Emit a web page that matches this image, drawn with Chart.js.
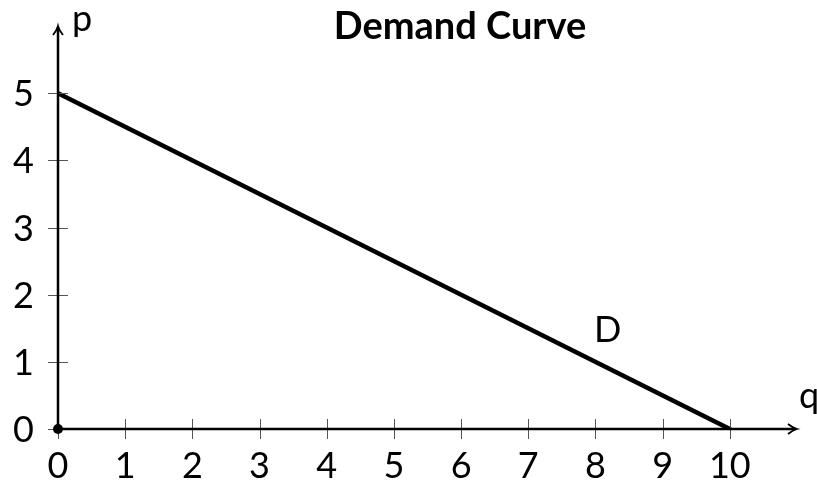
<!DOCTYPE html>
<html>
<head>
<meta charset="utf-8">
<script src="https://cdn.jsdelivr.net/npm/chart.js@4"></script>
<style>
  html, body { margin: 0; padding: 0; background: #fff; }
  #wrap { width: 817px; height: 484px; }
</style>
</head>
<body>
<div id="wrap"><canvas id="demand"></canvas></div>
<script>
// data
var quantity = [0, 10];
var price = [5, 0];
var xTicks = [0, 1, 2, 3, 4, 5, 6, 7, 8, 9, 10];
var yTicks = [0, 1, 2, 3, 4, 5];
var title = 'Demand Curve';
var curveLabel = 'D';

var FONT = 'Lato, "Open Sans", sans-serif';

// draws the arrow axes, tick marks, labels and title
var econAxes = {
    id: 'econAxes',
    afterDatasetsDraw: function(chart) {
        var c = chart.ctx;
        var xs = chart.scales.x, ys = chart.scales.y;
        var x0 = xs.getPixelForValue(0), y0 = ys.getPixelForValue(0);
        var xEnd = xs.right, yEnd = ys.top;

        c.save();
        // tick marks
        c.strokeStyle = '#555';
        c.lineWidth = 1;
        xTicks.forEach(function(v) {
            var px = Math.round(xs.getPixelForValue(v)) + 0.5;
            c.beginPath(); c.moveTo(px, y0 - 10); c.lineTo(px, y0 + 10); c.stroke();
        });
        yTicks.forEach(function(v) {
            var py = Math.round(ys.getPixelForValue(v)) + 0.5;
            c.beginPath(); c.moveTo(x0 - 10, py); c.lineTo(x0 + 10, py); c.stroke();
        });

        // axes
        c.strokeStyle = '#000';
        c.lineWidth = 2.5;
        c.beginPath(); c.moveTo(x0, y0); c.lineTo(xEnd - 2, y0); c.stroke();
        c.beginPath(); c.moveTo(x0, y0); c.lineTo(x0, yEnd + 2); c.stroke();
        // arrow heads
        c.lineWidth = 1.8;
        c.beginPath(); c.moveTo(xEnd - 9, y0 - 5); c.quadraticCurveTo(xEnd - 4, y0 - 1, xEnd, y0);
        c.quadraticCurveTo(xEnd - 4, y0 + 1, xEnd - 9, y0 + 5); c.stroke();
        c.beginPath(); c.moveTo(x0 - 5, yEnd + 9); c.quadraticCurveTo(x0 - 1, yEnd + 4, x0, yEnd);
        c.quadraticCurveTo(x0 + 1, yEnd + 4, x0 + 5, yEnd + 9); c.stroke();

        // origin dot
        c.fillStyle = '#000';
        c.beginPath(); c.arc(x0, y0, 5, 0, Math.PI * 2); c.fill();

        // tick labels
        c.font = '36px ' + FONT;
        c.textAlign = 'center';
        c.textBaseline = 'alphabetic';
        xTicks.forEach(function(v) {
            c.fillText(String(v), xs.getPixelForValue(v), y0 + 49);
        });
        c.textAlign = 'right';
        yTicks.forEach(function(v) {
            c.fillText(String(v), x0 - 24, ys.getPixelForValue(v) + 13);
        });

        // axis names and curve label
        c.textAlign = 'left';
        c.fillText('p', x0 + 14, 31);
        c.fillText('q', xEnd + 2, y0 - 21);
        c.fillText(curveLabel, xs.getPixelForValue(7.98), ys.getPixelForValue(1.3));

        // title
        c.font = 'bold 38px ' + FONT;
        c.textAlign = 'center';
        c.fillText(title, 460, 39);
        c.restore();
    }
};

new Chart(document.getElementById('demand'), {
    type: 'scatter',
    data: {
        datasets: [{
            label: curveLabel,
            data: quantity.map(function(q, i) { return { x: q, y: price[i] }; }),
            showLine: true,
            borderColor: '#000',
            borderWidth: 4.5,
            pointRadius: 0,
            borderCapStyle: 'round'
        }]
    },
    options: {
        responsive: true,
        maintainAspectRatio: false,
        animation: false,
        layout: { padding: { left: 58, right: 20, top: 26, bottom: 55 } },
        plugins: { legend: { display: false }, tooltip: { enabled: false } },
        scales: {
            x: { type: 'linear', min: 0, max: 11, display: false },
            y: { type: 'linear', min: 0, max: 6, display: false }
        }
    },
    plugins: [econAxes]
});
</script>
</body>
</html>
